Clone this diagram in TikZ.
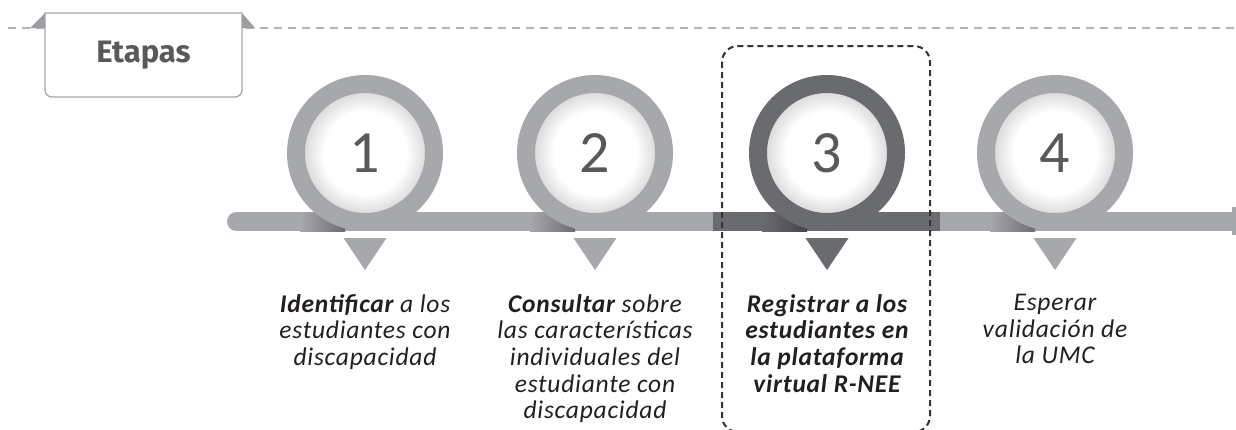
\documentclass[tikz,border=0pt]{standalone}
\usepackage{fontspec}
\setmainfont{Carlito}
\newfontfamily\descfont{Carlito}[LetterSpace=3]
\newfontfamily\numfont{Carlito}
\newfontfamily\tabfont{Fira Sans}
\usepackage{tikz}
\usetikzlibrary{positioning}
\definecolor{ringgray}{HTML}{A7A8AB}
\definecolor{ringdark}{HTML}{6A6B6F}
\definecolor{numgray}{HTML}{58595B}
\definecolor{linegray}{HTML}{B1B2B5}
\definecolor{tabgray}{HTML}{9D9EA1}
\definecolor{textdark}{HTML}{231F20}
\definecolor{framedark}{HTML}{333333}
\pgfdeclareradialshading{innerglow}{\pgfpoint{0bp}{0bp}}{color(0bp)=(white); color(15bp)=(white); color(22bp)=(black!14); color(50bp)=(black!14)}

\tikzset{
  ring/.style={circle, draw=ringgray, line width=18pt, minimum size=138pt, inner sep=0,
    shading=innerglow, text=numgray, font=\numfont\fontsize{60}{60}\selectfont},
  timeline/.style={draw=ringgray, line width=19pt, line cap=round},
  marker/.style={fill=ringgray},
  desc/.style={align=center, inner sep=0, text=textdark, font=\descfont\fontsize{25.5}{26.7}\selectfont\itshape},
  descbold/.style={desc, font=\descfont\fontsize{25.5}{26.7}\selectfont\bfseries\itshape},
  tab/.style={inner sep=0, outer sep=0, minimum width=197pt, minimum height=84pt,
    text=numgray, font=\tabfont\bfseries\fontsize{31}{31}\selectfont},
  tabline/.style={draw=ringgray, line width=1.3pt, fill=white},
  topline/.style={draw=linegray, line width=2pt, dash pattern=on 8pt off 6pt},
  stepframe/.style={draw=framedark, line width=2pt, dash pattern=on 6pt off 4pt, rounded corners=16pt}
}

\begin{document}
\begin{tikzpicture}[x=1pt, y=-1pt]
\useasboundingbox[fill=white] (0,0) rectangle (1236,429);
% top line with tab
\draw[topline] (8,28) -- (1236,28);
\node[tab] (tab) at (143.5,55) {};
\draw[tabline] (tab.north west) -- ([yshift=7pt]tab.south west) arc[start angle=180, end angle=270, radius=7pt]
  -- ([xshift=-7pt]tab.south east) arc[start angle=270, end angle=360, radius=7pt] -- (tab.north east) -- cycle;
\node[tab] at (tab.center) {Etapas};
\fill[tabgray] (tab.north west) -- ++(0,15) -- ++(-15,0) -- cycle;
\fill[tabgray] (tab.north east) -- ++(0,15) -- ++(13,0) -- cycle;
% timeline
\coordinate (tl-start) at (236.5,221.5);
\coordinate (tl-end) at (1245,221.5);
\draw[timeline] (tl-start) -- (tl-end);
\draw[timeline, draw=ringdark, line cap=butt] (713,221.5) -- (940,221.5);
\fill[ringgray] (1232,207) rectangle (1236,235);
\shade[left color=ringgray, right color=ringgray!65!black] (300,212) rectangle (345,231);
\shade[left color=ringgray, right color=ringgray!65!black] (530,212) rectangle (575,231);
\shade[left color=ringdark, right color=ringdark!65!black] (762,212) rectangle (807,231);
\shade[left color=ringgray, right color=ringgray!65!black] (990,212) rectangle (1035,231);
% steps
\node[ring] (s1) at (365,153) {1};
\node[ring] (s2) at (595,153) {2};
\node[ring, draw=ringdark] (s3) at (827,153) {3};
\node[ring] (s4) at (1055,153) {4};
\path (s1.south) ++(0,7) coordinate (m1) ++(0,32) coordinate (k1);
\path (s2.south) ++(0,7) coordinate (m2) ++(0,32) coordinate (k2);
\path (s3.south) ++(0,7) coordinate (m3) ++(0,32) coordinate (k3);
\path (s4.south) ++(0,7) coordinate (m4) ++(0,32) coordinate (k4);
\fill[marker] ([xshift=-21.5pt]m1) -- ([xshift=21.5pt]m1) -- (k1) -- cycle;
\fill[marker] ([xshift=-21.5pt]m2) -- ([xshift=21.5pt]m2) -- (k2) -- cycle;
\fill[marker, fill=ringdark] ([xshift=-21.5pt]m3) -- ([xshift=21.5pt]m3) -- (k3) -- cycle;
\fill[marker] ([xshift=-21.5pt]m4) -- ([xshift=21.5pt]m4) -- (k4) -- cycle;
\node[desc, below=24pt of k1] (d1) {{\bfseries Identificar} a los\\estudiantes con\\discapacidad};
\node[desc, below=24pt of k2] (d2) {{\bfseries Consultar} sobre\\las características\\individuales del\\estudiante con\\discapacidad};
\node[descbold, below=24pt of k3] (d3) {Registrar a los\\estudiantes en\\la plataforma\\virtual R-NEE};
\node[desc, below=24pt of k4] (d4) {Esperar\\validación de\\la UMC};
% current step
\draw[stepframe] (722,46) rectangle (930,432);
\end{tikzpicture}
\end{document}
